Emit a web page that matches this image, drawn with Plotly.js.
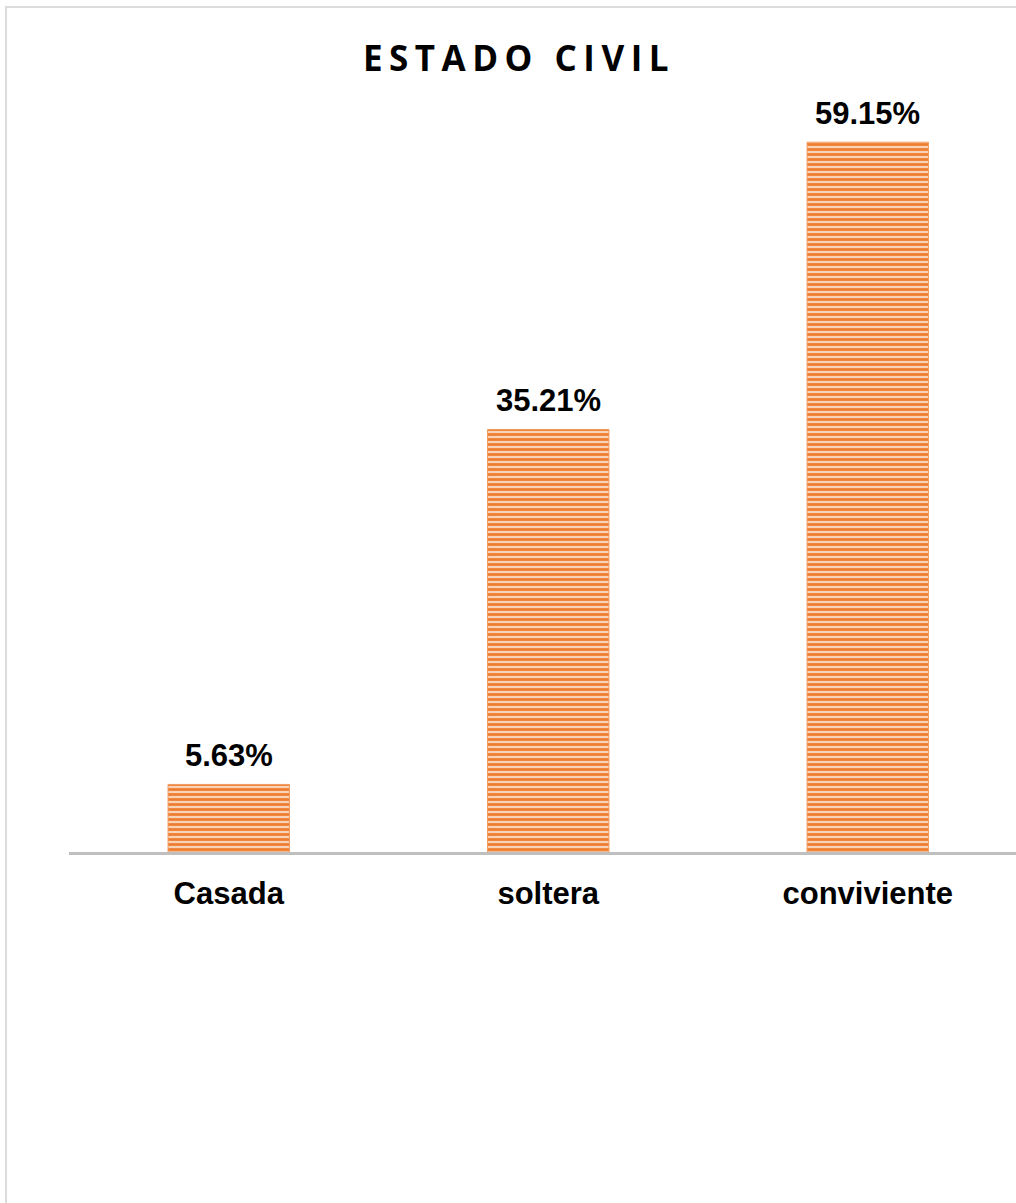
<!DOCTYPE html>
<html>
<head>
<meta charset="utf-8">
<script src="https://cdn.plot.ly/plotly-3.0.1.min.js"></script>
<style>
  html, body { margin:0; padding:0; background:#fff; overflow:hidden; }
  #wrap { position:relative; width:1016px; height:1203px; }
  #chart { position:absolute; left:0; top:0; width:1016px; height:1203px; }
  #frame { position:absolute; left:5px; top:6px; width:1100px; height:1300px; border:2px solid #dcdcdc; pointer-events:none; }
  .gtitle { letter-spacing: 6.5px; }
</style>
</head>
<body>
<div id="wrap">
  <div id="chart"></div>
  <div id="frame"></div>
</div>
<script>
const categories = ["Casada", "soltera", "conviviente"];
const values = [5.63, 35.21, 59.15];
const labels = values.map(v => v.toFixed(2) + "%");
const chartTitle = "ESTADO CIVIL";

const trace = {
  type: "bar",
  x: categories,
  y: values,
  width: 0.38,
  marker: {
    color: "#F9CDAE",
    line: { color: "#F19A5E", width: 1 },
    pattern: { shape: "-", fgcolor: "#ED7D31", bgcolor: "#FAD2B6", size: 5, solidity: 0.55, fillmode: "replace" }
  },
  hoverinfo: "skip",
  cliponaxis: false
};

const annotations = categories.map((c, i) => ({
  x: c, y: values[i], xref: "x", yref: "y",
  text: labels[i], showarrow: false, yanchor: "bottom", yshift: 9,
  font: { family: "Liberation Sans, Arial, sans-serif", size: 31, color: "#000", weight: "bold" }
}));

const layout = {
  width: 1016, height: 1203,
  margin: { l: 69, r: 0, t: 72, b: 351 },
  paper_bgcolor: "rgba(0,0,0,0)", plot_bgcolor: "rgba(0,0,0,0)",
  showlegend: false,
  title: {
    text: chartTitle,
    x: 0.5108, xanchor: "center", y: 0.951, yanchor: "middle",
    font: { family: "Open Sans, sans-serif", size: 35, color: "#000", weight: "bold" }
  },
  xaxis: {
    type: "category",
    range: [-0.5, 2.464],
    showline: true, linecolor: "#BFBFBF", linewidth: 3,
    showgrid: false, zeroline: false,
    ticks: "outside", ticklen: 12, tickcolor: "rgba(0,0,0,0)",
    tickfont: { family: "Liberation Sans, Arial, sans-serif", size: 31, color: "#000", weight: "bold" },
    fixedrange: true
  },
  yaxis: {
    range: [0, 65],
    visible: false, showgrid: false, zeroline: false, fixedrange: true
  },
  annotations: annotations
};

Plotly.newPlot("chart", [trace], layout, { staticPlot: true, displayModeBar: false });
</script>
</body>
</html>
